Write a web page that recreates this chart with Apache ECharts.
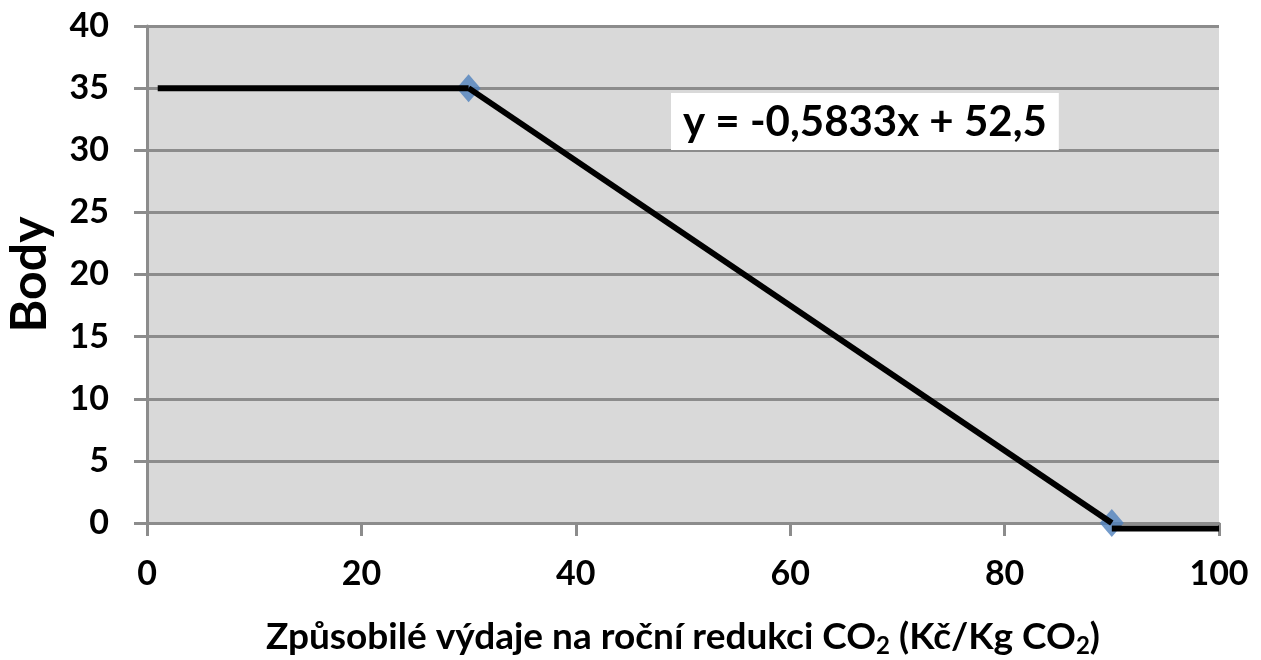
<!DOCTYPE html>
<html>
<head>
<meta charset="utf-8">
<script src="https://cdn.jsdelivr.net/npm/echarts@6/dist/echarts.min.js"></script>
<style>html,body{margin:0;padding:0;background:#fff;}#c{width:1261px;height:660px;}</style>
</head>
<body>
<div id="c"></div>
<script>
const flatSegment = [[1, 35], [30, 35]];
const slopeSegment = [[30, 35], [90, 0]];
const zeroSegment = [[90, -0.45], [100, -0.45]];
const markerPoints = [[30, 35], [90, 0]];
const equationText = 'y = -0,5833x + 52,5';
const xTitle = 'Způsobilé výdaje na roční redukci CO';
const yTitle = 'Body';

const chart = echarts.init(document.getElementById('c'));
const F = 'Lato, "Open Sans", sans-serif';
const gray = '#8c8c8c';
chart.setOption({
  animation: false,
  backgroundColor: '#fff',
  grid: { left: 147, right: 42, top: 26, bottom: 137, show: true, backgroundColor: '#d9d9d9', borderWidth: 0, outerBoundsMode: 'none', containLabel: false },
  xAxis: {
    type: 'value', min: 0, max: 100, interval: 20,
    axisLine: { show: true, onZero: false, lineStyle: { color: gray, width: 3 } },
    axisTick: { show: true, length: 13, lineStyle: { color: gray, width: 3 } },
    splitLine: { show: false },
    axisLabel: { color: '#000', fontFamily: F, fontWeight: 'bold', fontSize: 34, margin: 34 },
    name: '{t|' + xTitle + '}{s|2}{t| (Kč/Kg CO}{s|2}{t|)}',
    nameLocation: 'middle', nameGap: 93,
    nameTextStyle: {
      rich: {
        t: { fontFamily: F, fontWeight: 'bold', fontSize: 37, color: '#000' },
        s: { fontFamily: F, fontWeight: 'bold', fontSize: 24, color: '#000', padding: [18, 0, 0, 0] }
      }
    }
  },
  yAxis: {
    type: 'value', min: 0, max: 40, interval: 5,
    axisLine: { show: true, lineStyle: { color: gray, width: 3 } },
    axisTick: { show: true, length: 13, lineStyle: { color: gray, width: 3 } },
    splitLine: { show: true, lineStyle: { color: gray, width: 3 } },
    axisLabel: { color: '#000', fontFamily: F, fontWeight: 'bold', fontSize: 34, margin: 38 },
    name: yTitle, nameLocation: 'middle', nameGap: 92, nameRotate: 90,
    nameTextStyle: { color: '#000', fontFamily: F, fontWeight: 'bold', fontSize: 50 }
  },
  series: [
    { type: 'scatter', data: markerPoints, symbol: 'diamond', symbolSize: [24, 28], itemStyle: { color: '#4f81bd' }, z: 2 },
    { type: 'line', data: flatSegment, showSymbol: false, symbol: 'none', lineStyle: { color: '#000', width: 6 }, z: 3, clip: false },
    { type: 'line', data: slopeSegment, showSymbol: false, symbol: 'none', lineStyle: { color: '#000', width: 6 }, z: 3, clip: false },
    { type: 'line', data: zeroSegment, showSymbol: false, symbol: 'none', lineStyle: { color: '#000', width: 6 }, z: 3, clip: false }
  ],
  graphic: [{
    type: 'text', left: 671, top: 93, z: 10,
    style: {
      text: equationText, fontFamily: F, fontWeight: 'bold', fontSize: 42, fill: '#000',
      backgroundColor: '#fff', padding: [8, 12, 7, 12]
    }
  }]
});
</script>
</body>
</html>
